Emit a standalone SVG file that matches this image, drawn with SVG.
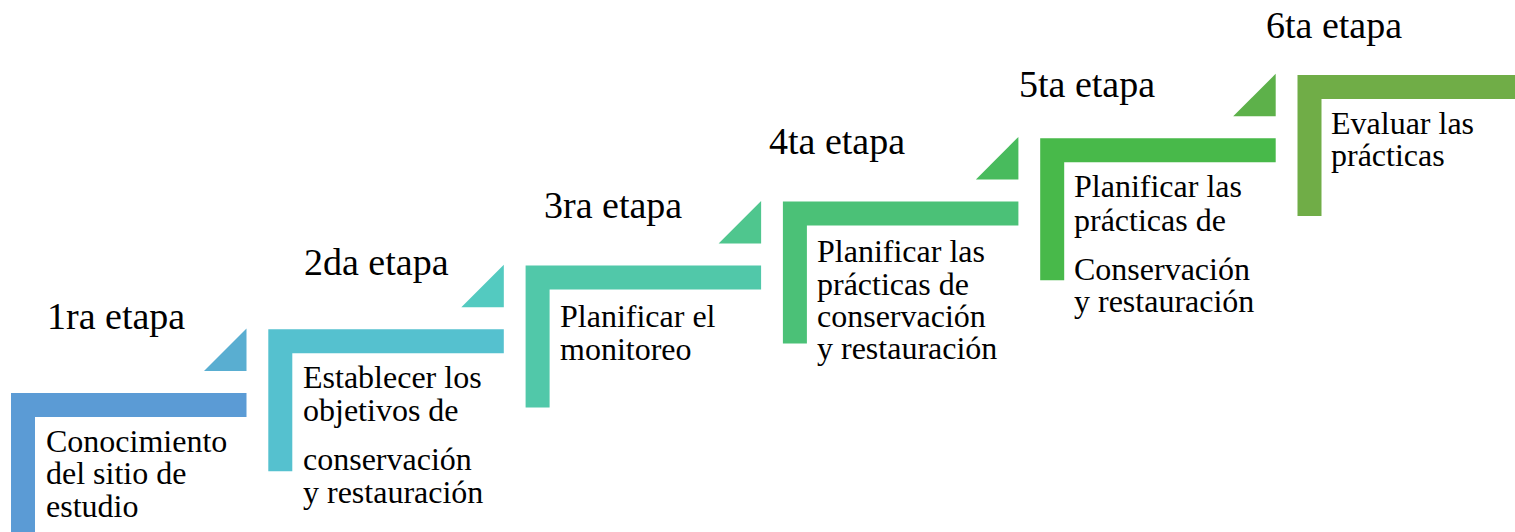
<svg xmlns="http://www.w3.org/2000/svg" width="1515" height="532" viewBox="0 0 1515 532">
<style>
text{font-family:"Liberation Serif","Times New Roman",serif;fill:#000}
.h{font-size:38px}
.b{font-size:32px}
</style>
<rect width="1515" height="532" fill="#fff"/>
<g id="step1">
<path d="M11 393H246.5V417H35V536H11Z" fill="#5B9BD5"/>
<polygon points="204,371 246.5,371 246.5,328.5" fill="#59AED1"/>
<text class="h" x="47" y="329">1ra etapa</text>
<text class="b"><tspan x="46" y="452">Conocimiento</tspan><tspan x="46" y="484">del sitio de</tspan><tspan x="46" y="517">estudio</tspan></text>
</g>
<g id="step2">
<path d="M268.3 329.3H503.8V353.3H292.3V471.3H268.3Z" fill="#55C1CF"/>
<polygon points="461.3,307.3 503.8,307.3 503.8,264.8" fill="#53CAC0"/>
<text class="h" x="304" y="275">2da etapa</text>
<text class="b"><tspan x="303" y="388">Establecer los</tspan><tspan x="303" y="421">objetivos de</tspan><tspan x="303" y="470">conservación</tspan><tspan x="303" y="503">y restauración</tspan></text>
</g>
<g id="step3">
<path d="M525.6 265.4H761.1V289.4H549.6V407.4H525.6Z" fill="#51C8A9"/>
<polygon points="718.6,243.4 761.1,243.4 761.1,200.9" fill="#4FC68E"/>
<text class="h" x="544" y="218">3ra etapa</text>
<text class="b"><tspan x="560" y="327">Planificar el</tspan><tspan x="560" y="360">monitoreo</tspan></text>
</g>
<g id="step4">
<path d="M782.9 201.4H1018.4V225.4H806.9V343.4H782.9Z" fill="#4BC177"/>
<polygon points="975.9,179.4 1018.4,179.4 1018.4,136.9" fill="#48BB5D"/>
<text class="h" x="769" y="154">4ta etapa</text>
<text class="b"><tspan x="817" y="262">Planificar las</tspan><tspan x="817" y="295">prácticas de</tspan><tspan x="817" y="327">conservación</tspan><tspan x="817" y="359">y restauración</tspan></text>
</g>
<g id="step5">
<path d="M1040.2 138.2H1275.7V162.2H1064.2V280.2H1040.2Z" fill="#48B94A"/>
<polygon points="1233.2,116.2 1275.7,116.2 1275.7,73.7" fill="#5DB14A"/>
<text class="h" x="1019" y="97">5ta etapa</text>
<text class="b"><tspan x="1074" y="197">Planificar las</tspan><tspan x="1074" y="231">prácticas de</tspan><tspan x="1074" y="280">Conservación</tspan><tspan x="1074" y="312">y restauración</tspan></text>
</g>
<g id="step6">
<path d="M1297.5 75H1515V99H1321.5V216H1297.5Z" fill="#70AD47"/>
<text class="h" x="1266" y="38">6ta etapa</text>
<text class="b"><tspan x="1331" y="134">Evaluar las</tspan><tspan x="1331" y="166">prácticas</tspan></text>
</g>
<g id="connectors"></g>
</svg>
